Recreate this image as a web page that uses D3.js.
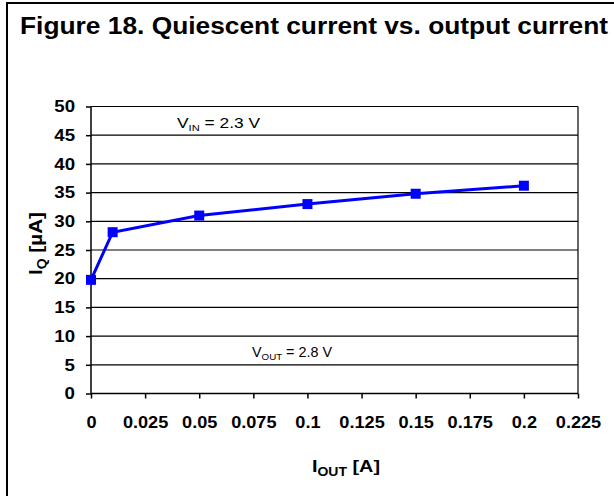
<!DOCTYPE html>
<html><head><meta charset="utf-8">
<script src="https://cdn.jsdelivr.net/npm/d3@7"></script>
<style>body{margin:0;background:#fff}svg{display:block}text{font-family:"Liberation Sans",Arial,sans-serif}</style>
</head><body>
<script>
const iout = [0, 0.01, 0.05, 0.1, 0.15, 0.2];
const iq = [19.8, 28.1, 31.0, 33.0, 34.8, 36.2];
const xTicks = [0, 0.025, 0.05, 0.075, 0.1, 0.125, 0.15, 0.175, 0.2, 0.225];
const xTickLabels = ["0", "0.025", "0.05", "0.075", "0.1", "0.125", "0.15", "0.175", "0.2", "0.225"];
const yTicks = [0, 5, 10, 15, 20, 25, 30, 35, 40, 45, 50];

const W = 614, H = 496;
const FONT = '"Liberation Sans",Arial,sans-serif';
const svg = d3.select("body").append("svg").attr("width", W).attr("height", H);
svg.append("rect").attr("x", 0).attr("y", 0).attr("width", W).attr("height", H).attr("fill", "#fff");
// outer frame
svg.append("rect").attr("x", 7).attr("y", 3).attr("width", 620).attr("height", 520)
  .attr("fill", "none").attr("stroke", "#000").attr("stroke-width", 2);

svg.append("text").attr("x", 20).attr("y", 34).attr("font-size", 23).attr("font-weight", "bold")
  .attr("textLength", 588).attr("lengthAdjust", "spacingAndGlyphs")
  .text("Figure 18. Quiescent current vs. output current");

const x = d3.scaleLinear().domain([0, 0.225]).range([91, 578]);
const y = d3.scaleLinear().domain([0, 50]).range([393.5, 106.5]);

// gridlines
svg.append("g").selectAll("line").data(yTicks.filter(d => d > 0)).join("line")
  .attr("x1", x(0)).attr("x2", x(0.225)).attr("y1", d => y(d)).attr("y2", d => y(d))
  .attr("stroke", "#000").attr("stroke-width", 1.2);
// right border
svg.append("line").attr("x1", x(0.225)).attr("x2", x(0.225)).attr("y1", y(50)).attr("y2", y(0))
  .attr("stroke", "#000").attr("stroke-width", 1.2);

const xAxis = d3.axisBottom(x).tickValues(xTicks).tickFormat((d, i) => xTickLabels[i]).tickSize(5).tickPadding(18);
const gx = svg.append("g").attr("transform", `translate(0,${y(0)})`).call(xAxis);
gx.selectAll("path,line").attr("stroke", "#000").attr("stroke-width", 1.5);
gx.select(".domain").attr("d", `M${x(0)},0H${x(0.225)}`);
gx.selectAll("text").attr("font-size", 16.5).attr("font-weight", "bold").attr("fill", "#000")
  .attr("font-family", FONT).attr("transform", "scale(1.1,1)");

const yAxis = d3.axisLeft(y).tickValues(yTicks).tickSize(5).tickPadding(11);
const gy = svg.append("g").attr("transform", `translate(${x(0)},0)`).call(yAxis);
gy.selectAll("path,line").attr("stroke", "#000").attr("stroke-width", 1.5);
gy.select(".domain").attr("d", `M0,${y(0)}V${y(50)}`);
gy.selectAll("text").attr("font-size", 16.5).attr("font-weight", "bold").attr("fill", "#000")
  .attr("font-family", FONT).attr("x", 0).attr("transform", "translate(-16,0) scale(1.13,1)");

// series
const pts = iout.map((v, i) => [v, iq[i]]);
svg.append("path").datum(pts)
  .attr("d", d3.line().x(d => x(d[0])).y(d => y(d[1])))
  .attr("fill", "none").attr("stroke", "#0000FF").attr("stroke-width", 3);
svg.append("g").selectAll("rect").data(pts).join("rect")
  .attr("x", d => x(d[0]) - 5).attr("y", d => y(d[1]) - 5)
  .attr("width", 10).attr("height", 10).attr("fill", "#0000FF");

// annotations
const a1 = svg.append("text").attr("x", 177).attr("y", 128).attr("font-size", 14)
  .attr("textLength", 83).attr("lengthAdjust", "spacingAndGlyphs");
a1.append("tspan").text("V");
a1.append("tspan").attr("font-size", 9).attr("dy", 3).text("IN");
a1.append("tspan").attr("dy", -3).text(" = 2.3 V");
const a2 = svg.append("text").attr("x", 252).attr("y", 357).attr("font-size", 14)
  .attr("textLength", 80).attr("lengthAdjust", "spacingAndGlyphs");
a2.append("tspan").text("V");
a2.append("tspan").attr("font-size", 9.5).attr("dy", 3).text("OUT");
a2.append("tspan").attr("dy", -3).text(" = 2.8 V");

// axis titles
const xt = svg.append("text").attr("x", 312).attr("y", 472)
  .attr("font-size", 17).attr("font-weight", "bold")
  .attr("textLength", 68).attr("lengthAdjust", "spacingAndGlyphs");
xt.append("tspan").text("I");
xt.append("tspan").attr("font-size", 12).attr("dy", 4).text("OUT");
xt.append("tspan").attr("dy", -4).text(" [A]");

const yt = svg.append("text").attr("transform", "translate(42,275) rotate(-90)")
  .attr("font-size", 18).attr("font-weight", "bold")
  .attr("textLength", 63).attr("lengthAdjust", "spacingAndGlyphs");
yt.append("tspan").text("I");
yt.append("tspan").attr("font-size", 12).attr("dy", 4).text("Q");
yt.append("tspan").attr("dy", -4).text(" [µA]");
</script>
</body></html>
